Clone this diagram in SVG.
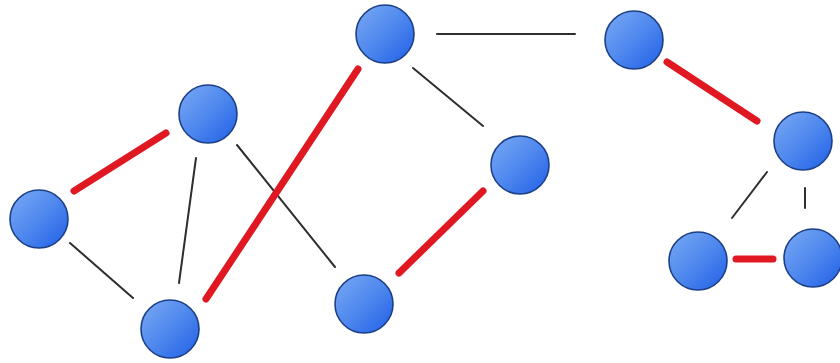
<svg xmlns="http://www.w3.org/2000/svg" width="840" height="363" viewBox="0 0 840 363">
<style>
.node{fill:url(#g);stroke:#1c3f86;stroke-width:1.6}
.thin{stroke:#2e2e2e;stroke-width:2;stroke-linecap:round;fill:none}
.red{stroke:#e01822;stroke-width:7;stroke-linecap:round;fill:none}
</style>
<defs>
<linearGradient id="g" x1="0" y1="0" x2="1" y2="1">
<stop offset="0" stop-color="#7aaaf4"/>
<stop offset="0.5" stop-color="#4f88ee"/>
<stop offset="1" stop-color="#1f5fe6"/>
</linearGradient>
</defs>
<rect width="840" height="363" fill="#ffffff"/>
<g id="connectors">
<line class="red" x1="74" y1="191" x2="166" y2="133"/>
<line class="thin" x1="196" y1="158" x2="179" y2="283"/>
<line class="thin" x1="70" y1="243" x2="133" y2="298"/>
<line class="thin" x1="237" y1="145" x2="335" y2="267"/>
<line class="red" x1="206" y1="299" x2="358" y2="69"/>
<line class="thin" x1="413" y1="68" x2="483" y2="126"/>
<line class="red" x1="483" y1="191" x2="399" y2="273"/>
<line class="thin" x1="437" y1="34" x2="575" y2="34"/>
<line class="red" x1="667" y1="62" x2="757" y2="121"/>
<line class="thin" x1="767" y1="172" x2="732" y2="218"/>
<line class="thin" x1="805" y1="188" x2="805" y2="208"/>
<line class="red" x1="736" y1="259" x2="773" y2="259"/>
</g>
<g id="n1"><circle class="node" cx="39" cy="219" r="29"/></g>
<g id="n2"><circle class="node" cx="208" cy="114" r="29"/></g>
<g id="n3"><circle class="node" cx="170" cy="329" r="29"/></g>
<g id="n4"><circle class="node" cx="385" cy="34" r="29"/></g>
<g id="n5"><circle class="node" cx="520" cy="165" r="29"/></g>
<g id="n6"><circle class="node" cx="364" cy="304" r="29"/></g>
<g id="n7"><circle class="node" cx="634" cy="40" r="29"/></g>
<g id="n8"><circle class="node" cx="803" cy="141" r="29"/></g>
<g id="n9"><circle class="node" cx="698" cy="261" r="29"/></g>
<g id="n10"><circle class="node" cx="813" cy="258" r="29"/></g>
</svg>
